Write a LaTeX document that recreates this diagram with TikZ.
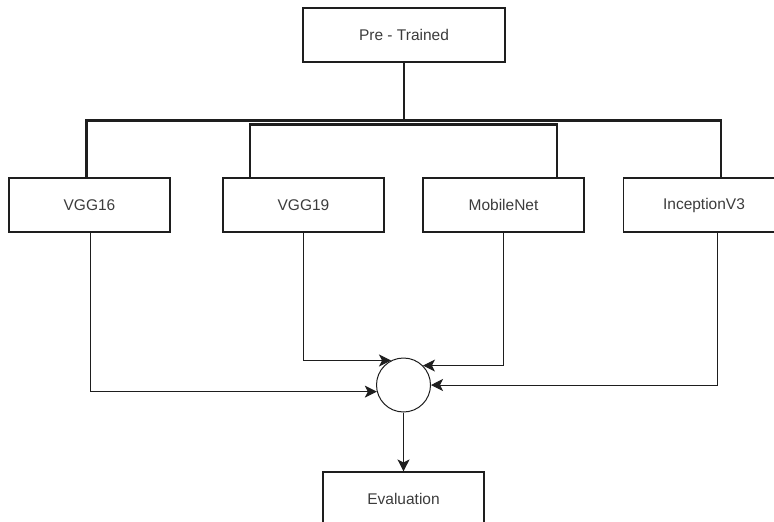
\documentclass[tikz,border=0pt]{standalone}
\usepackage{fontspec}
\setmainfont{Liberation Sans}
\usepackage{tikz}
\usetikzlibrary{calc,positioning,arrows.meta}
\definecolor{myline}{RGB}{30,30,30}
\definecolor{mytext}{RGB}{60,60,60}

\begin{document}
\begin{tikzpicture}[x=1pt,y=-1pt,
    box/.style={draw=myline, line width=1.1pt, rectangle, fill=white, inner sep=0pt,
      minimum width=161pt, minimum height=54pt, text=mytext,
      font=\fontsize{15.5}{18}\selectfont},
    bar/.style={line width=2.4pt, myline},
    link/.style={line width=1pt, myline, -{Stealth[length=12pt,width=12pt,inset=3pt]}}]
  \useasboundingbox (0,0) rectangle (774,522);

  % Top node
  \node[box, minimum width=202pt] (pre) at (404,35) {Pre - Trained};
  \coordinate (hub) at (404,121);

  % Pre-trained models
  \node[box] (vgg16) at (89.5,205) {VGG16};
  \node[box] (vgg19) at (303.5,205) {VGG19};
  \node[box] (mobile) at (503.5,205) {MobileNet};
  \node[box] (incep) at (704,205) {InceptionV3};

  % Tree lines
  \draw[bar] (pre.south) -- (hub);
  \draw[bar] ([xshift=-3pt]vgg16.north) -- ++(0,-57) -| ([xshift=17pt]incep.north);
  \draw[bar] ([xshift=-53.5pt]vgg19.north) -- ++(0,-53) -| ([xshift=53.5pt]mobile.north);

  % Combination
  \node[draw=myline, line width=1pt, circle, minimum size=54pt, inner sep=0pt] (sum) at (403.5,385) {};
  \draw[link] ([xshift=0.5pt]vgg16.south) |- (sum.194);
  \draw[link] (vgg19.south) |- (sum.117);
  \draw[link] (mobile.south) |- (sum.45);
  \draw[link] ([xshift=13pt]incep.south) |- (sum.east);

  % Result
  \node[box] (eval) at (403.5,499) {Evaluation};
  \draw[link] (sum.south) -- (eval.north);
\end{tikzpicture}
\end{document}
